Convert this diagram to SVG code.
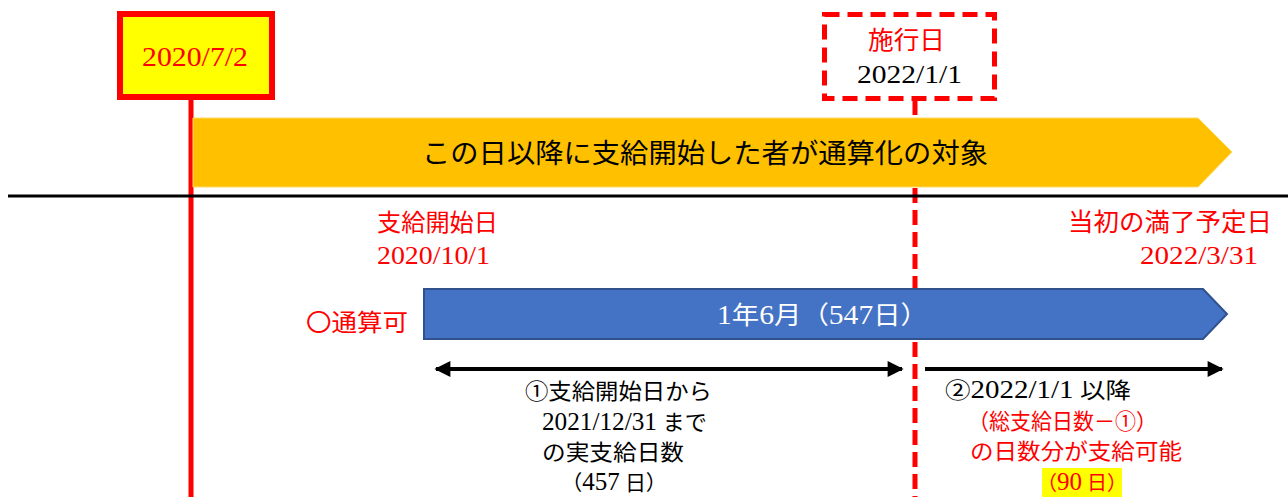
<svg xmlns="http://www.w3.org/2000/svg" width="1288" height="497" viewBox="0 0 1288 497">
<style>
.ser{font-family:"Liberation Serif","Noto Sans CJK JP",serif;}
.san{font-family:"Noto Sans CJK JP","Liberation Sans",sans-serif;}
.red{fill:#ff0000;}
.blk{fill:#000;}
.dg{font-size:25px;}
</style>
<defs>
<marker id="ah" viewBox="0 0 10 10" refX="9" refY="5" markerWidth="5" markerHeight="4" orient="auto-start-reverse" markerUnits="strokeWidth">
<path d="M0,0 L10,5 L0,10 z" fill="#000"/>
</marker>
</defs>
<rect width="1288" height="497" fill="#fff"/>
<g id="connectors">
<line x1="191" y1="100" x2="191" y2="497" stroke="#ff0000" stroke-width="5"/>
<line x1="915" y1="100" x2="915" y2="497" stroke="#ff0000" stroke-width="5" stroke-dasharray="15,7"/>
<line x1="8" y1="196" x2="1288" y2="196" stroke="#000" stroke-width="3"/>
<line x1="436" y1="369" x2="902" y2="369" stroke="#000" stroke-width="4" marker-start="url(#ah)" marker-end="url(#ah)"/>
<line x1="925" y1="369" x2="1222" y2="369" stroke="#000" stroke-width="4" marker-end="url(#ah)"/>
</g>
<g id="date-start">
<rect x="120" y="14" width="152" height="83" fill="#ffff00" stroke="#ff0000" stroke-width="6"/>
<text x="142" y="66" class="ser red" font-size="27" textLength="106" lengthAdjust="spacingAndGlyphs">2020/7/2</text>
</g>
<g id="date-enforce">
<rect x="824.5" y="14.5" width="170" height="84" fill="#fff" stroke="#ff0000" stroke-width="5" stroke-dasharray="15,8"/>
<text x="868" y="49" class="ser red" font-size="25" textLength="77" lengthAdjust="spacingAndGlyphs">施行日</text>
<text x="857" y="83" class="ser blk" font-size="26" textLength="105" lengthAdjust="spacingAndGlyphs">2022/1/1</text>
</g>
<g id="target-bar">
<path d="M193,118 L1198,118 L1232,152 L1198,187 L193,187 z" fill="#ffc000" stroke="#ffd966" stroke-width="1"/>
<text x="705" y="163" class="san blk" font-size="27" text-anchor="middle" textLength="566" lengthAdjust="spacingAndGlyphs">この日以降に支給開始した者が通算化の対象</text>
</g>
<g id="start-date">
<text x="377" y="231" class="ser red" font-size="24" textLength="121" lengthAdjust="spacingAndGlyphs">支給開始日</text>
<text x="377" y="264" class="ser red" font-size="26" textLength="113" lengthAdjust="spacingAndGlyphs">2020/10/1</text>
</g>
<g id="end-date">
<text x="1068" y="231" class="ser red" font-size="25" textLength="204" lengthAdjust="spacingAndGlyphs">当初の満了予定日</text>
<text x="1140" y="264" class="ser red" font-size="26" textLength="118" lengthAdjust="spacingAndGlyphs">2022/3/31</text>
</g>
<g id="label-ok">
<text x="306" y="331" class="ser red" font-size="24" textLength="102" lengthAdjust="spacingAndGlyphs">〇通算可</text>
</g>
<g id="period-bar">
<path d="M424,289 L1203,289 L1227,314 L1203,339 L424,339 z" fill="#4472c4" stroke="#2f528f" stroke-width="2"/>
<text x="717" y="324" class="ser" fill="#fff" font-size="25" textLength="211" lengthAdjust="spacingAndGlyphs"><tspan font-size="27">1</tspan>年<tspan font-size="27">6</tspan>月（<tspan font-size="27">547</tspan>日）</text>
</g>
<g id="note-1">
<text x="525" y="399" class="ser blk" font-size="22" textLength="187" lengthAdjust="spacingAndGlyphs">①支給開始日から</text>
<text x="542" y="430" class="ser blk" font-size="22" textLength="165" lengthAdjust="spacingAndGlyphs"><tspan class="dg">2021/12/31</tspan> まで</text>
<text x="542" y="460" class="ser blk" font-size="22" textLength="142" lengthAdjust="spacingAndGlyphs">の実支給日数</text>
<text x="614" y="490" class="ser blk" font-size="21" text-anchor="middle">（<tspan class="dg">457</tspan> 日）</text>
</g>
<g id="note-2">
<text x="945" y="398" class="ser blk" font-size="22" textLength="186" lengthAdjust="spacingAndGlyphs">②<tspan class="dg">2022/1/1</tspan> 以降</text>
<text x="968" y="429" class="ser red" font-size="22" textLength="189" lengthAdjust="spacingAndGlyphs">（総支給日数－①）</text>
<text x="970" y="459" class="ser red" font-size="22" textLength="212" lengthAdjust="spacingAndGlyphs">の日数分が支給可能</text>
<rect x="1042" y="468" width="80" height="29" fill="#ffff00"/>
<text x="1082" y="490" class="ser red" font-size="20" text-anchor="middle">（<tspan class="dg">90</tspan> 日）</text>
</g>
</svg>
